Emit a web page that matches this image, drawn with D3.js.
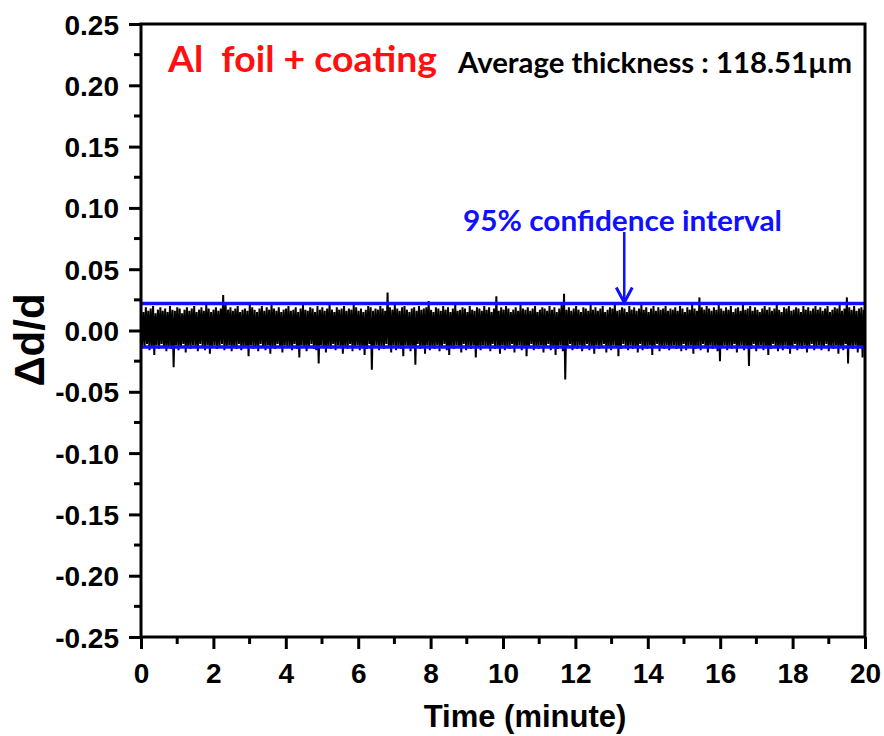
<!DOCTYPE html>
<html>
<head>
<meta charset="utf-8">
<script src="https://cdn.jsdelivr.net/npm/d3@7"></script>
<style>
  body { margin: 0; background: #fff; }
  svg { display: block; }
</style>
</head>
<body>
<svg id="chart" width="884" height="736"></svg>
<script>
// signal, in units of 0.001 (per mille of d)
// peaks = upper excursions, troughs = lower excursions, they alternate in time
const peaks = [
  17,15,19,16,18,20,14,17,19,16,18,15,20,17,16,19,18,14,17,19,
  16,18,20,15,17,19,16,21,18,15,17,19,16,18,29,22,17,19,16,18,
  20,15,17,18,16,21,19,17,15,18,20,16,19,17,22,18,16,19,15,17,
  18,20,16,17,19,15,18,21,17,16,19,18,15,20,17,19,16,18,22,17,
  15,19,17,18,20,16,18,17,21,19,16,18,15,17,20,19,16,18,17,20,
  18,16,31,19,17,21,18,16,19,20,17,15,18,19,16,20,17,18,19,24,
  17,15,19,18,16,20,17,19,15,18,21,16,17,19,18,15,20,17,16,19,
  18,16,20,17,19,15,18,28,16,19,17,20,18,15,17,19,16,21,18,17,
  19,16,18,20,15,17,19,18,16,20,17,19,15,18,21,30,17,19,16,18,
  20,17,15,19,18,16,21,17,19,16,18,20,15,17,19,18,22,16,17,19,
  18,15,20,17,19,16,18,21,17,19,15,18,20,16,19,17,18,20,16,18,
  17,19,16,20,18,15,19,17,21,18,16,27,19,17,20,18,16,19,17,21,
  18,16,19,17,20,15,18,19,16,21,17,18,20,16,19,17,15,18,20,17,
  19,16,18,21,17,15,19,18,20,16,17,19,18,15,20,17,19,16,18,20,
  17,19,16,18,20,15,17,19,18,21,16,18,27,19,17,20,16,18,19,17
];
const troughs = [
  -12,-14,-11,-16,-13,-20,-12,-15,-11,-14,-17,-13,-15,-30,-12,-16,-14,-11,-18,-13,
  -15,-12,-14,-17,-11,-13,-16,-12,-19,-14,-12,-15,-13,-11,-16,-14,-12,-17,-13,-15,
  -11,-16,-13,-14,-21,-12,-15,-13,-17,-11,-14,-16,-12,-19,-13,-15,-11,-14,-18,-12,
  -14,-13,-16,-11,-15,-22,-12,-14,-17,-13,-11,-15,-16,-27,-12,-14,-18,-13,-15,-11,
  -16,-12,-14,-19,-13,-15,-11,-17,-14,-12,-16,-13,-20,-15,-11,-32,-14,-12,-16,-13,
  -15,-11,-14,-18,-12,-16,-13,-15,-21,-12,-14,-17,-13,-28,-11,-15,-14,-19,-12,-16,
  -13,-15,-12,-17,-14,-11,-16,-20,-13,-15,-12,-14,-18,-11,-16,-13,-15,-12,-22,-14,
  -16,-12,-14,-13,-17,-11,-15,-14,-19,-12,-16,-13,-15,-11,-18,-14,-12,-16,-13,-21,
  -14,-11,-16,-13,-15,-12,-18,-14,-11,-16,-13,-20,-15,-12,-17,-40,-14,-11,-16,-13,
  -15,-12,-17,-14,-11,-16,-13,-19,-12,-15,-14,-11,-18,-13,-16,-12,-14,-21,-15,-11,
  -13,-16,-12,-15,-14,-18,-11,-16,-13,-15,-12,-20,-14,-11,-17,-13,-15,-12,-16,-14,
  -12,-15,-13,-17,-11,-16,-14,-12,-19,-15,-13,-16,-11,-14,-18,-12,-15,-13,-17,-25,
  -14,-12,-16,-13,-15,-11,-18,-14,-12,-16,-13,-29,-15,-11,-17,-14,-12,-16,-13,-20,
  -15,-11,-14,-17,-13,-16,-12,-15,-19,-14,-11,-16,-13,-15,-12,-18,-14,-11,-16,-13,
  -12,-16,-14,-11,-17,-13,-15,-12,-19,-14,-16,-11,-27,-13,-15,-12,-18,-14,-22,-13
];
const confUpper = 0.022
const confLower = -0.0135
const xTicks = [0,2,4,6,8,10,12,14,16,18,20]
const yTicks = [0.25,0.20,0.15,0.10,0.05,0,-0.05,-0.10,-0.15,-0.20,-0.25]
const titleText = "Al  foil + coating"
const thickText = "Average thickness : 118.51\u00b5m"
const confText = "95% confidence interval"
const arrowAt = 13.35

const svg = d3.select('#chart')
const mLeft = 141, mRight = 865, mTop = 24, mBottom = 637

const x = d3.scaleLinear().domain([0, 20]).range([mLeft, mRight])
const y = d3.scaleLinear().domain([-0.25, 0.25]).range([mBottom, mTop])

// interleave peaks and troughs into one zigzag series
let series = []
peaks.forEach((p, i) => {
    series.push(p / 1000)
    series.push(troughs[i] / 1000)
})
const n = series.length
const line = d3.line()
    .x((d, i) => x(i * 20 / (n - 1)))
    .y(d => y(d))

svg.append('path')
    .datum(series)
    .attr('d', line)
    .attr('fill', 'none')
    .attr('stroke', '#000')
    .attr('stroke-width', 2)

// confidence lines
svg.selectAll('.conf')
    .data([confUpper, confLower])
    .enter()
    .append('line')
    .attr('class', 'conf')
    .attr('x1', x(0)).attr('x2', x(20))
    .attr('y1', d => y(d)).attr('y2', d => y(d))
    .attr('stroke', '#1010ff')
    .attr('stroke-width', 3.5)

// axes
const tickFont = '"Liberation Sans", Arial, sans-serif'
const fmt2 = d3.format('.2f')
const xAxis = d3.axisBottom(x).tickValues(xTicks).tickFormat(d3.format('d')).tickSize(12).tickPadding(6)
const yAxis = d3.axisLeft(y).tickValues(yTicks)
    .tickFormat(d => fmt2(d).replace('\u2212', '-'))
    .tickSize(12).tickPadding(10)

const gx = svg.append('g').attr('transform', `translate(0,${mBottom})`).call(xAxis)
const gy = svg.append('g').attr('transform', `translate(${mLeft},0)`).call(yAxis)

// minor ticks
const xMinor = d3.range(1, 20, 2)
gx.selectAll('.minor').data(xMinor).enter().append('line')
    .attr('x1', d => x(d)).attr('x2', d => x(d))
    .attr('y1', 0).attr('y2', 7)
    .attr('stroke', '#000').attr('stroke-width', 3)
const yMinor = d3.range(-0.225, 0.25, 0.05)
gy.selectAll('.minor').data(yMinor).enter().append('line')
    .attr('y1', d => y(d)).attr('y2', d => y(d))
    .attr('x1', 0).attr('x2', -7)
    .attr('stroke', '#000').attr('stroke-width', 3)

;[gx, gy].forEach(g => {
    g.select('.domain').remove()
    g.selectAll('.tick line').attr('stroke', '#000').attr('stroke-width', 3)
    g.selectAll('.tick text')
        .attr('fill', '#000')
        .style('font-family', tickFont)
        .style('font-weight', 'bold')
        .style('font-size', '28px')
})
gx.selectAll('.tick text').attr('dy', '1em')
gy.selectAll('.tick text').attr('dy', '0.36em')

// frame
svg.append('rect')
    .attr('x', mLeft).attr('y', mTop)
    .attr('width', mRight - mLeft).attr('height', mBottom - mTop)
    .attr('fill', 'none')
    .attr('stroke', '#000')
    .attr('stroke-width', 3)

// axis titles
svg.append('text')
    .attr('x', 525).attr('y', 727)
    .attr('text-anchor', 'middle')
    .style('font-family', tickFont)
    .style('font-weight', 'bold')
    .style('font-size', '31px')
    .text('Time (minute)')

svg.append('text')
    .attr('transform', 'translate(44,340) rotate(-90)')
    .attr('text-anchor', 'middle')
    .style('font-family', tickFont)
    .style('font-weight', 'bold')
    .style('font-size', '42px')
    .text('\u0394d/d')

// annotations
const noteFont = 'Lato, "Open Sans", sans-serif'
svg.append('text')
    .attr('x', 168).attr('y', 72)
    .attr('fill', '#ff1010')
    .style('font-family', noteFont)
    .style('font-weight', 'bold')
    .style('font-size', '36px')
    .style('white-space', 'pre')
    .attr('textLength', 269)
    .attr('lengthAdjust', 'spacingAndGlyphs')
    .text(titleText)

svg.append('text')
    .attr('x', 458).attr('y', 73)
    .attr('fill', '#000')
    .style('font-family', noteFont)
    .style('font-weight', 'bold')
    .style('font-size', '28px')
    .attr('textLength', 394)
    .attr('lengthAdjust', 'spacingAndGlyphs')
    .text(thickText)

svg.append('text')
    .attr('x', 463).attr('y', 231)
    .attr('fill', '#1010ff')
    .style('font-family', noteFont)
    .style('font-weight', 'bold')
    .style('font-size', '28px')
    .attr('textLength', 319)
    .attr('lengthAdjust', 'spacingAndGlyphs')
    .text(confText)

// arrow down to the upper confidence line
const ax = x(arrowAt)
svg.append('line')
    .attr('x1', ax).attr('x2', ax)
    .attr('y1', 232).attr('y2', y(confUpper) - 2)
    .attr('stroke', '#1010ff')
    .attr('stroke-width', 2.5)
svg.append('path')
    .attr('d', `M${ax - 8},${y(confUpper) - 16} L${ax},${y(confUpper) - 1} L${ax + 8},${y(confUpper) - 16}`)
    .attr('fill', 'none')
    .attr('stroke', '#1010ff')
    .attr('stroke-width', 3)
</script>
</body>
</html>
